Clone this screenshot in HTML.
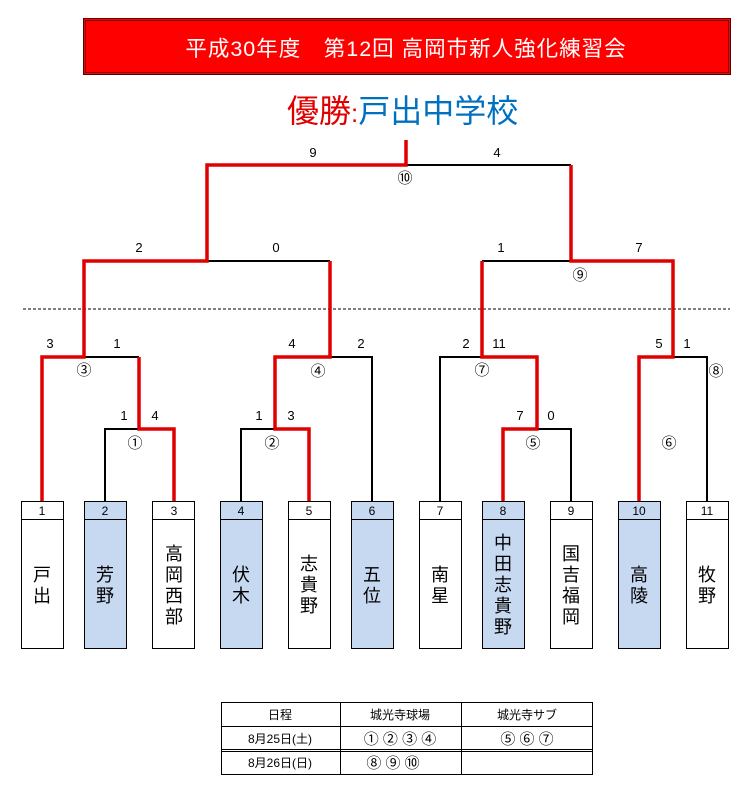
<!DOCTYPE html>
<html><head><meta charset="utf-8"><style>
html,body{margin:0;padding:0;background:#fff;}
svg{display:block;font-family:"Liberation Sans","Noto Sans CJK JP",sans-serif;}
</style></head><body>
<svg width="750" height="793" viewBox="0 0 750 793" xmlns="http://www.w3.org/2000/svg">
<!-- title -->
<rect x="83.5" y="18.5" width="647" height="56" fill="#ff0000" stroke="#5a0000" stroke-width="1"/>
<rect x="85.5" y="20.5" width="643" height="52" fill="none" stroke="#7a0000" stroke-width="1"/>
<text x="406" y="56" font-size="21.5" letter-spacing="1" fill="#fff" text-anchor="middle">平成30年度　第12回 高岡市新人強化練習会</text>
<text x="287" y="122" font-size="32" fill="#e00000">優勝<tspan font-size="26">:</tspan><tspan fill="#0070c0">戸出中学校</tspan></text>

<!-- dotted line -->
<line x1="23" y1="309" x2="730" y2="309" stroke="#000" stroke-width="1" stroke-dasharray="3,2"/>

<!-- black lines -->
<g stroke="#000" stroke-width="2" fill="none">
<path d="M406 165H571"/>
<path d="M207 261H330"/>
<path d="M482 261H571"/>
<path d="M84 357H139"/>
<path d="M330 357H372V502"/>
<path d="M440 502V357H482"/>
<path d="M673 357H707V502"/>
<path d="M105 502V429H139"/>
<path d="M241 502V429H275"/>
<path d="M537 429H571V502"/>
</g>
<!-- red lines -->
<g stroke="#e00000" stroke-width="3.5" fill="none" stroke-linejoin="miter">
<path d="M406 140V165H207V261H84V357H42V502"/>
<path d="M139 357V429H174V502"/>
<path d="M330 261V357H275V429H309V502"/>
<path d="M571 165V261H673V357H639V502"/>
<path d="M482 261V357H537V429H503V502"/>
</g>

<!-- score labels -->
<g font-size="13" fill="#000" text-anchor="middle">
<text x="313" y="157">9</text><text x="497" y="157">4</text>
<text x="139" y="252">2</text><text x="276" y="252">0</text>
<text x="501" y="252">1</text><text x="639" y="252">7</text>
<text x="50" y="348">3</text><text x="117" y="348">1</text>
<text x="292" y="348">4</text><text x="361" y="348">2</text>
<text x="466" y="348">2</text><text x="499" y="348">11</text>
<text x="659" y="348">5</text><text x="687" y="348">1</text>
<text x="124" y="420">1</text><text x="155" y="420">4</text>
<text x="259" y="420">1</text><text x="291" y="420">3</text>
<text x="520" y="420">7</text><text x="551" y="420">0</text>
</g>
<g font-size="15" fill="#000" text-anchor="middle">
<text x="405" y="183">⑩</text><text x="580" y="280">⑨</text>
<text x="84" y="375">③</text><text x="318" y="376">④</text>
<text x="482" y="375">⑦</text><text x="716" y="376">⑧</text>
<text x="135" y="448">①</text><text x="272" y="448">②</text>
<text x="533" y="448">⑤</text><text x="669" y="448">⑥</text>
</g>

<!-- team boxes -->
<g stroke="#000" stroke-width="1">
<rect x="21.5" y="501.5" width="42" height="147" fill="#fff"/>
<rect x="84.5" y="501.5" width="42" height="147" fill="#c6d9f1"/>
<rect x="152.5" y="501.5" width="42" height="147" fill="#fff"/>
<rect x="220.5" y="501.5" width="42" height="147" fill="#c6d9f1"/>
<rect x="288.5" y="501.5" width="42" height="147" fill="#fff"/>
<rect x="351.5" y="501.5" width="42" height="147" fill="#c6d9f1"/>
<rect x="419.5" y="501.5" width="42" height="147" fill="#fff"/>
<rect x="482.5" y="501.5" width="42" height="147" fill="#c6d9f1"/>
<rect x="550.5" y="501.5" width="42" height="147" fill="#fff"/>
<rect x="618.5" y="501.5" width="42" height="147" fill="#c6d9f1"/>
<rect x="686.5" y="501.5" width="42" height="147" fill="#fff"/>
<path d="M21 519.5H64M84 519.5H127M152 519.5H195M220 519.5H263M288 519.5H331M351 519.5H394M419 519.5H462M482 519.5H525M550 519.5H593M618 519.5H661M686 519.5H729"/>
</g>
<g font-size="12" text-anchor="middle" fill="#000">
<text x="42" y="515">1</text><text x="105" y="515">2</text><text x="174" y="515">3</text>
<text x="241" y="515">4</text><text x="309" y="515">5</text><text x="372" y="515">6</text>
<text x="440" y="515">7</text><text x="503" y="515">8</text><text x="571" y="515">9</text>
<text x="639" y="515">10</text><text x="707" y="515">11</text>
</g>
<g font-size="18" text-anchor="middle" fill="#000">
<text x="42" y="581">戸<tspan x="42" dy="21">出</tspan></text>
<text x="105" y="581">芳<tspan x="105" dy="21">野</tspan></text>
<text x="174" y="560">高<tspan x="174" dy="21">岡</tspan><tspan x="174" dy="21">西</tspan><tspan x="174" dy="21">部</tspan></text>
<text x="241" y="581">伏<tspan x="241" dy="21">木</tspan></text>
<text x="309" y="570">志<tspan x="309" dy="21">貴</tspan><tspan x="309" dy="21">野</tspan></text>
<text x="372" y="581">五<tspan x="372" dy="21">位</tspan></text>
<text x="440" y="581">南<tspan x="440" dy="21">星</tspan></text>
<text x="503" y="549">中<tspan x="503" dy="21">田</tspan><tspan x="503" dy="21">志</tspan><tspan x="503" dy="21">貴</tspan><tspan x="503" dy="21">野</tspan></text>
<text x="571" y="560">国<tspan x="571" dy="21">吉</tspan><tspan x="571" dy="21">福</tspan><tspan x="571" dy="21">岡</tspan></text>
<text x="639" y="581">高<tspan x="639" dy="21">陵</tspan></text>
<text x="707" y="581">牧<tspan x="707" dy="21">野</tspan></text>
</g>

<!-- schedule table -->
<g stroke="#000" stroke-width="1" fill="none">
<rect x="221.5" y="702.5" width="371" height="72"/>
<path d="M221 726.5H593M221 749.5H593M221 751.5H593M340.5 702V775M461.5 702V775"/>
</g>
<g font-size="12" fill="#000" text-anchor="middle">
<text x="280" y="719">日程</text>
<text x="400" y="719">城光寺球場</text>
<text x="527" y="719">城光寺サブ</text>
<text x="280" y="743">8月25日(土)</text>
<text x="400" y="744" font-size="15">① ② ③ ④</text>
<text x="527" y="744" font-size="15">⑤ ⑥ ⑦</text>
<text x="280" y="767">8月26日(日)</text>
<text x="393" y="768" font-size="15">⑧  ⑨ ⑩</text>
</g>
</svg>
</body></html>
